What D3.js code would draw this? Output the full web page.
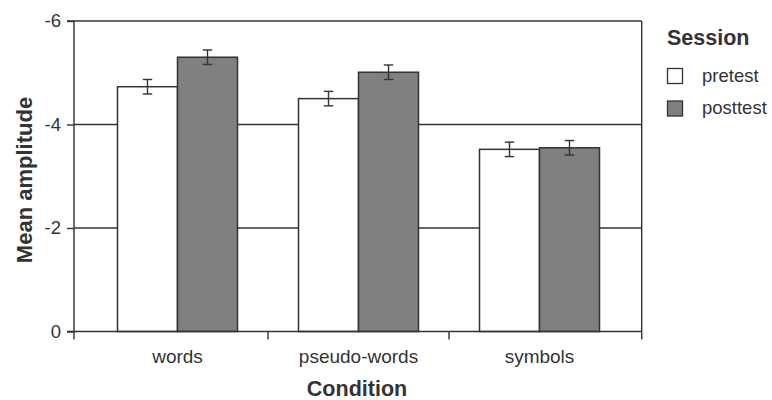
<!DOCTYPE html>
<html>
<head>
<meta charset="utf-8">
<script src="https://cdn.jsdelivr.net/npm/d3@7"></script>
<style>
  body { margin: 0; background: #fff; }
  svg { display: block; }
  text { font-family: "Liberation Sans", Arial, Helvetica, sans-serif; fill: #333; }
</style>
</head>
<body>
<svg id="chart" width="772" height="400"></svg>
<script>
const categories = ["words", "pseudo-words", "symbols"];
const sessions = ["pretest", "posttest"];
const pretest = [-4.73, -4.50, -3.52];
const posttest = [-5.30, -5.01, -3.55];
const pretestErr = [0.14, 0.14, 0.14];
const posttestErr = [0.14, 0.14, 0.14];
const yTicks = [0, -2, -4, -6];
const sessionColors = ["#ffffff", "#808083"];

const seriesValues = [pretest, posttest];
const seriesErr = [pretestErr, posttestErr];

const svg = d3.select("#chart");
const ink = "#333333";

const frameLeft = 74, frameRight = 641.7, frameTop = 21, frameBottom = 331.5;

const y = d3.scaleLinear().domain([0, -6]).range([frameBottom, frameTop]);
const x0 = d3.scaleBand().domain(categories).range([87, 630]);
const barW = 60;
const x1 = d3.scaleBand().domain(sessions)
  .range([(x0.bandwidth() - 2 * barW) / 2, (x0.bandwidth() + 2 * barW) / 2]);

// gridlines
svg.append("g").selectAll("line").data(yTicks.filter(d => d !== 0)).join("line")
  .attr("x1", frameLeft).attr("x2", frameRight)
  .attr("y1", d => y(d)).attr("y2", d => y(d))
  .attr("stroke", ink).attr("stroke-width", 1.4);

// right frame
svg.append("line")
  .attr("x1", frameRight).attr("x2", frameRight)
  .attr("y1", frameTop).attr("y2", frameBottom)
  .attr("stroke", ink).attr("stroke-width", 1.4);

// bars
const rows = [];
categories.forEach((c, i) => sessions.forEach((s, j) => {
  rows.push({ c, s, j, v: seriesValues[j][i], e: seriesErr[j][i] });
}));

svg.append("g").selectAll("rect").data(rows).join("rect")
  .attr("x", d => x0(d.c) + x1(d.s))
  .attr("width", x1.bandwidth())
  .attr("y", d => y(d.v))
  .attr("height", d => y(0) - y(d.v))
  .attr("fill", d => sessionColors[d.j])
  .attr("stroke", ink).attr("stroke-width", 1.5);

// error bars
const eg = svg.append("g").attr("stroke", ink).attr("stroke-width", 1.4);
rows.forEach(d => {
  const cx = x0(d.c) + x1(d.s) + x1.bandwidth() / 2;
  eg.append("line").attr("x1", cx).attr("x2", cx)
    .attr("y1", y(d.v - d.e)).attr("y2", y(d.v + d.e));
  [d.v - d.e, d.v + d.e].forEach(t => {
    eg.append("line").attr("x1", cx - 4.7).attr("x2", cx + 4.7)
      .attr("y1", y(t)).attr("y2", y(t));
  });
});

// y axis
const yAxis = svg.append("g").attr("transform", `translate(${frameLeft},0)`)
  .call(d3.axisLeft(y).tickValues(yTicks).tickFormat(d3.format("d")).tickSize(7).tickPadding(6));
yAxis.select(".domain").attr("stroke", ink).attr("stroke-width", 1.4)
  .attr("d", `M-7,${frameTop}H0V${frameBottom}H-7`);
yAxis.selectAll(".tick line").attr("stroke", ink).attr("stroke-width", 1.4);
yAxis.selectAll(".tick text").attr("font-size", 18.5).attr("fill", ink)
  .text(d => d === 0 ? "0" : "-" + Math.abs(d));

// x axis
const xg = svg.append("g");
xg.append("line").attr("x1", frameLeft).attr("x2", frameRight)
  .attr("y1", frameBottom).attr("y2", frameBottom)
  .attr("stroke", ink).attr("stroke-width", 1.4);
const xTickPos = [frameLeft, ...categories.slice(1).map(c => x0(c)), frameRight];
xg.selectAll(".xt").data(xTickPos).join("line")
  .attr("x1", d => d).attr("x2", d => d)
  .attr("y1", frameBottom).attr("y2", frameBottom + 8)
  .attr("stroke", ink).attr("stroke-width", 1.4);
xg.selectAll(".xl").data(categories).join("text")
  .attr("x", d => x0(d) + x0.bandwidth() / 2)
  .attr("y", 363)
  .attr("text-anchor", "middle")
  .attr("font-size", 19)
  .text(d => d);

// axis titles
svg.append("text").attr("x", 357).attr("y", 396).attr("text-anchor", "middle")
  .attr("font-size", 21.5).attr("font-weight", "bold").text("Condition");
svg.append("text").attr("transform", "translate(32,180) rotate(-90)")
  .attr("text-anchor", "middle")
  .attr("font-size", 22).attr("font-weight", "bold").text("Mean amplitude");

// legend
const lg = svg.append("g").attr("transform", "translate(667,0)");
lg.append("text").attr("x", 0).attr("y", 45).attr("font-size", 21.5)
  .attr("font-weight", "bold").text("Session");
sessions.forEach((s, j) => {
  const yy = 68.5 + j * 32.5;
  lg.append("rect").attr("x", 0.5).attr("y", yy).attr("width", 15).attr("height", 15)
    .attr("fill", sessionColors[j]).attr("stroke", ink).attr("stroke-width", 1.3);
  lg.append("text").attr("x", 35).attr("y", yy + 13).attr("font-size", 18.5).text(s);
});
</script>
</body>
</html>
